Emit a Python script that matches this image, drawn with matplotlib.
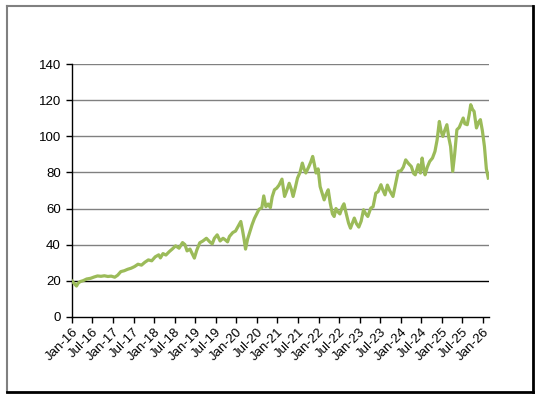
import numpy as np
import pandas as pd
import matplotlib
matplotlib.use('Agg')
import matplotlib.pyplot as plt
import matplotlib.dates as mdates
from matplotlib.lines import Line2D

plt.rcParams['font.family'] = ['Liberation Sans', 'DejaVu Sans']

# price history
dates = [
    '2016-01-01', '2016-01-20', '2016-02-10', '2016-02-25', '2016-03-15', '2016-04-10',
    '2016-05-10', '2016-06-15', '2016-07-15', '2016-08-15', '2016-09-15', '2016-10-15',
    '2016-11-15', '2016-12-15', '2017-01-15', '2017-02-10', '2017-03-10', '2017-04-10',
    '2017-05-10', '2017-06-10', '2017-07-10', '2017-08-10', '2017-09-10', '2017-10-10',
    '2017-11-10', '2017-12-10', '2018-01-10', '2018-02-10', '2018-02-25', '2018-03-20',
    '2018-04-15', '2018-05-15', '2018-06-10', '2018-07-10', '2018-08-10', '2018-09-10',
    '2018-10-01', '2018-10-20', '2018-11-15', '2018-12-05', '2018-12-24', '2019-01-15',
    '2019-02-10', '2019-03-10', '2019-04-10', '2019-05-10', '2019-06-01', '2019-06-20',
    '2019-07-15', '2019-08-10', '2019-09-05', '2019-09-25', '2019-10-15', '2019-11-01',
    '2019-12-01', '2019-12-25', '2020-01-20', '2020-02-10', '2020-02-25', '2020-03-10',
    '2020-03-23', '2020-04-10', '2020-04-30', '2020-05-20', '2020-06-10', '2020-06-30',
    '2020-07-20', '2020-08-15', '2020-09-01', '2020-09-20', '2020-10-10', '2020-10-30',
    '2020-11-15', '2020-12-05', '2020-12-25', '2021-01-15', '2021-02-10', '2021-03-05',
    '2021-03-25', '2021-04-15', '2021-05-05', '2021-05-20', '2021-06-10', '2021-06-28',
    '2021-07-20', '2021-08-10', '2021-08-25', '2021-09-10', '2021-10-05', '2021-10-25',
    '2021-11-10', '2021-11-25', '2021-12-10', '2021-12-28', '2022-01-15', '2022-02-05',
    '2022-02-20', '2022-03-10', '2022-03-28', '2022-04-15', '2022-05-05', '2022-05-20',
    '2022-06-05', '2022-06-20', '2022-07-10', '2022-08-01', '2022-08-15', '2022-09-01',
    '2022-09-25', '2022-10-12', '2022-10-30', '2022-11-15', '2022-12-05', '2022-12-25',
    '2023-01-15', '2023-02-05', '2023-02-25', '2023-03-15', '2023-04-10', '2023-05-01',
    '2023-05-25', '2023-06-15', '2023-07-10', '2023-07-25', '2023-08-15', '2023-09-05',
    '2023-09-25', '2023-10-25', '2023-11-15', '2023-12-10', '2024-01-05', '2024-01-25',
    '2024-02-15', '2024-03-10', '2024-04-05', '2024-04-25', '2024-05-10', '2024-06-05',
    '2024-06-25', '2024-07-10', '2024-07-25', '2024-08-05', '2024-08-25', '2024-09-15',
    '2024-10-10', '2024-11-01', '2024-11-20', '2024-12-10', '2024-12-25', '2025-01-10',
    '2025-01-25', '2025-02-15', '2025-03-05', '2025-03-20', '2025-04-08', '2025-04-25',
    '2025-05-15', '2025-06-05', '2025-06-25', '2025-07-10', '2025-07-25', '2025-08-15',
    '2025-09-01', '2025-09-15', '2025-10-01', '2025-10-15', '2025-11-05', '2025-11-25',
    '2025-12-10', '2025-12-28', '2026-01-15', '2026-02-01', '2026-02-18',
]
values = [
    19.8, 18.5, 17.0, 18.6, 19.5, 20.0,
    20.9, 21.3, 22.0, 22.6, 22.4, 22.7,
    22.3, 22.5, 21.9, 23.0, 25.0, 25.5,
    26.3, 26.9, 27.8, 29.1, 28.6, 30.2,
    31.5, 31.0, 33.2, 34.3, 32.6, 35.0,
    34.2, 36.1, 37.5, 39.3, 38.0, 41.1,
    40.0, 36.5, 37.5, 35.0, 32.5, 37.0,
    41.0, 42.0, 43.5, 41.5, 40.4, 43.5,
    45.4, 42.0, 43.5, 42.6, 41.5, 44.5,
    46.7, 47.5, 50.5, 52.8, 48.0, 43.0,
    37.5, 43.0, 47.0, 51.0, 54.5, 57.0,
    59.5, 60.5, 67.0, 61.0, 62.5, 60.5,
    66.5, 70.4, 71.3, 73.0, 76.3, 66.7,
    70.0, 74.0, 70.5, 66.7, 72.0, 76.9,
    80.0, 85.2, 82.0, 79.7, 83.0, 86.0,
    88.9, 84.5, 79.7, 82.0, 72.2, 68.0,
    64.8, 68.0, 70.4, 63.0, 57.0, 55.6,
    60.0, 58.3, 57.0, 61.0, 62.6, 58.0,
    51.9, 49.1, 52.0, 54.7, 51.5, 49.7,
    53.0, 59.3, 57.0, 55.6, 60.2, 61.0,
    68.5, 69.4, 73.2, 70.5, 67.6, 73.0,
    70.0, 66.7, 73.0, 80.6, 81.0, 83.0,
    87.0, 85.0, 83.3, 79.5, 78.7, 84.3,
    79.7, 88.0, 82.0, 78.7, 83.0, 86.1,
    88.0, 91.7, 98.0, 108.3, 103.0, 100.0,
    103.0, 106.5, 99.0, 94.4, 80.6, 90.0,
    103.7, 105.0, 108.0, 110.2, 107.0, 106.5,
    112.0, 117.6, 115.0, 113.9, 104.7, 108.0,
    109.3, 103.0, 94.4, 82.0, 76.9,
]
y_ticks = [0, 20, 40, 60, 80, 100, 120, 140]

x = pd.to_datetime(dates)

fig = plt.figure(figsize=(5.38, 3.97), dpi=100)
ax = fig.add_axes([0.1338, 0.2023, 0.7746, 0.6357])

for yv in y_ticks[2:]:
    ax.axhline(yv, color='#808080', lw=1.0, zorder=1)
ax.axhline(20, color='black', lw=1.0, zorder=1)

ax.plot(x, values, color='#9BBB59', lw=2.3, zorder=3)

ax.set_ylim(0, 140)
ax.set_yticks(y_ticks)
ax.set_xlim(pd.Timestamp('2016-01-01'), pd.Timestamp('2026-02-22'))
ax.xaxis.set_major_locator(mdates.MonthLocator(bymonth=[1, 7]))
ax.xaxis.set_major_formatter(mdates.DateFormatter('%b-%y'))
for lbl in ax.get_xticklabels():
    lbl.set_rotation(45)
    lbl.set_ha('right')
    lbl.set_rotation_mode('anchor')

ax.tick_params(axis='both', direction='out', length=4, width=1, labelsize=9.5, colors='black')
ax.tick_params(axis='y', pad=4)
ax.tick_params(axis='x', pad=3)
for s in ['top', 'right']:
    ax.spines[s].set_visible(False)
for s in ['left', 'bottom']:
    ax.spines[s].set_color('black')
    ax.spines[s].set_linewidth(1.0)

# outer frame with shadow edge
W, H = 538.0, 397.0
fig.add_artist(Line2D([7 / W, 533 / W], [1 - 6 / H, 1 - 6 / H], color='#808080', lw=1.5))
fig.add_artist(Line2D([7 / W, 7 / W], [1 - 6 / H, 1 - 392 / H], color='#808080', lw=1.5))
fig.add_artist(Line2D([533 / W, 533 / W], [1 - 6 / H, 1 - 392 / H], color='black', lw=2))
fig.add_artist(Line2D([7 / W, 533 / W], [1 - 392 / H, 1 - 392 / H], color='black', lw=2))

fig.savefig('out.png', dpi=100)
